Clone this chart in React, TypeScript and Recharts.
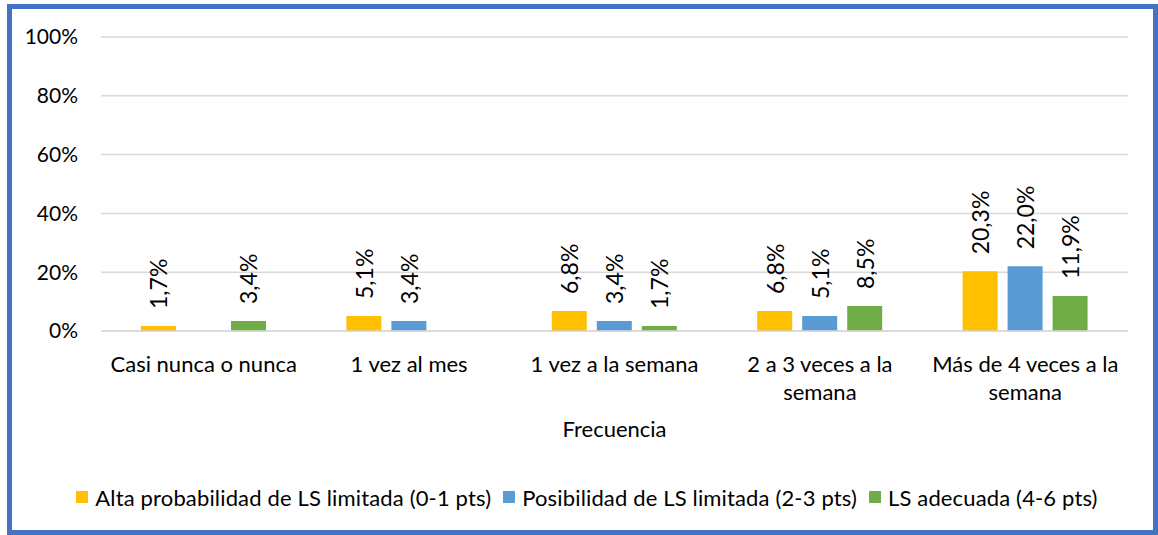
import { BarChart, Bar, XAxis, YAxis, CartesianGrid, Legend, LabelList } from "recharts";

const categories = [
  "Casi nunca o nunca",
  "1 vez al mes",
  "1 vez a la semana",
  "2 a 3 veces a la\nsemana",
  "Más de 4 veces a la\nsemana",
];
const alta = [1.7, 5.1, 6.8, 6.8, 20.3];
const posible = [null, 3.4, 3.4, 5.1, 22.0];
const adecuada = [3.4, null, 1.7, 8.5, 11.9];
const yTicks = [0, 20, 40, 60, 80, 100];

const seriesNames = [
  "Alta probabilidad de LS limitada (0-1 pts)",
  "Posibilidad de LS limitada (2-3 pts)",
  "LS adecuada (4-6 pts)",
];
const colors = ["#FFC000", "#5B9BD5", "#70AD47"];

const data = categories.map((name, i) => ({
  name,
  alta: alta[i],
  posible: posible[i],
  adecuada: adecuada[i],
}));

const FONT = "Lato, 'Open Sans', sans-serif";

const CategoryTick = (props: any) => {
  const { x, y, payload } = props;
  const lines = String(payload.value).split("\n");
  return (
    <g>
      {lines.map((line, i) => (
        <text
          key={i}
          x={x}
          y={y + 39 + i * 28}
          textAnchor="middle"
          fontSize={22}
          fontFamily={FONT}
          fill="#000"
        >
          {line}
        </text>
      ))}
    </g>
  );
};

const ValueLabel = (props: any) => {
  const { x, y, width, value } = props;
  if (value === null || value === undefined) return null;
  const cx = Number(x) + Number(width) / 2;
  const cy = Number(y) - 17;
  return (
    <text
      x={cx}
      y={cy}
      transform={`rotate(-90 ${cx} ${cy})`}
      textAnchor="start"
      dominantBaseline="central"
      fontSize={23}
      fontFamily={FONT}
      fill="#000"
    >
      {Number(value).toFixed(1).replace(".", ",")}%
    </text>
  );
};

const LegendContent = () => (
  <div
    style={{
      height: 24,
      display: "flex",
      justifyContent: "center",
      alignItems: "center",
      fontFamily: FONT,
      fontSize: 22,
      letterSpacing: 0.15,
      color: "#000",
      whiteSpace: "nowrap",
    }}
  >
    {seriesNames.map((n, i) => (
      <span key={n} style={{ display: "flex", alignItems: "center", marginRight: i < 2 ? 12 : 0 }}>
        <span style={{ width: 12, height: 12, background: colors[i], marginRight: 7 }} />
        {n}
      </span>
    ))}
  </div>
);

export default function App() {
  return (
    <div style={{ position: "absolute", left: 0, top: 0, width: 1158, height: 535, background: "#fff" }}>
      <div
        style={{
          position: "absolute",
          left: 7,
          top: 4,
          width: 1151,
          height: 531,
          boxSizing: "border-box",
          border: "5px solid #4472C4",
        }}
      />
      <div style={{ position: "absolute", left: 0, top: 0 }}>
        <BarChart
          width={1158}
          height={535}
          data={data}
          margin={{ top: 37, right: 30, left: 0, bottom: 26 }}
          barSize={35}
          barGap={10}
        >
          <CartesianGrid vertical={false} stroke="#D9D9D9" strokeWidth={1.5} />
          <XAxis
            dataKey="name"
            height={154}
            tickLine={false}
            tickSize={0}
            axisLine={{ stroke: "#D9D9D9", strokeWidth: 1.5 }}
            tick={<CategoryTick />}
            interval={0}
            label={{
              value: "Frecuencia",
              position: "insideTop",
              offset: 90,
              fontSize: 22,
              fontFamily: FONT,
              fill: "#000",
            }}
          />
          <YAxis
            width={101}
            domain={[0, 100]}
            ticks={yTicks}
            tickFormatter={(v: number) => `${v}%`}
            axisLine={false}
            tickLine={false}
            tickSize={0}
            tickMargin={23}
            tick={{ fontSize: 21, fontFamily: FONT, fill: "#000" }}
          />
          <Legend verticalAlign="bottom" content={<LegendContent />} wrapperStyle={{ left: 23 }} />
          <Bar dataKey="alta" name={seriesNames[0]} fill={colors[0]} isAnimationActive={false}>
            <LabelList dataKey="alta" content={<ValueLabel />} />
          </Bar>
          <Bar dataKey="posible" name={seriesNames[1]} fill={colors[1]} isAnimationActive={false}>
            <LabelList dataKey="posible" content={<ValueLabel />} />
          </Bar>
          <Bar dataKey="adecuada" name={seriesNames[2]} fill={colors[2]} isAnimationActive={false}>
            <LabelList dataKey="adecuada" content={<ValueLabel />} />
          </Bar>
        </BarChart>
      </div>
    </div>
  );
}
